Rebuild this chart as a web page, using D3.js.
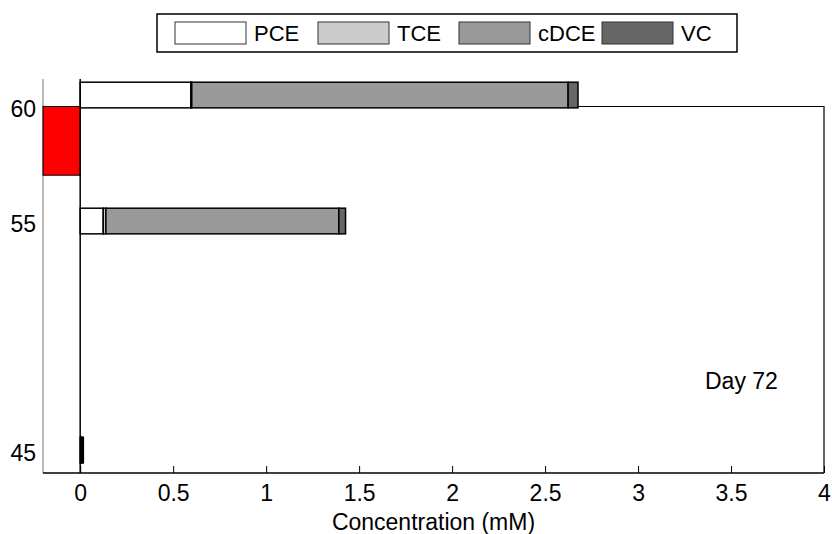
<!DOCTYPE html>
<html>
<head>
<meta charset="utf-8">
<script src="https://cdn.jsdelivr.net/npm/d3@7"></script>
<style>
  html, body { margin: 0; padding: 0; background: #fff; }
  svg { display: block; }
  text { font-family: "Liberation Sans", Arial, Helvetica, sans-serif; fill: #000; }
</style>
</head>
<body>
<svg id="chart" width="832" height="534"></svg>
<script>
// Concentration profile by depth, day 72
const species = ["PCE", "TCE", "cDCE", "VC"];
const speciesColors = ["#ffffff", "#cccccc", "#999999", "#666666"];
const depths = [60.5, 55, 45];
const pce  = [0.595, 0.124, 0.003];
const tce  = [0.005, 0.014, 0.002];
const cdce = [2.024, 1.253, 0.004];
const vc   = [0.053, 0.036, 0.008];
const depthTicks = [45, 55, 60];
const concTicks = [0, 0.5, 1, 1.5, 2, 2.5, 3, 3.5, 4];
const zoneConc = [-0.2, 0];
const zoneDepth = [57, 60];
const dayLabel = "Day 72";
const barThickness = 1.12;

const svg = d3.select("#chart");
const fontSize = 23;

const x = d3.scaleLinear().domain([-0.2, 4]).range([43, 824]);
const y = d3.scaleLinear().domain([44, 61.2]).range([473, 79]);

// left frame line
svg.append("line")
  .attr("x1", x(-0.2)).attr("x2", x(-0.2))
  .attr("y1", y(61.2)).attr("y2", y(44))
  .attr("stroke", "#777").attr("stroke-width", 1);

// highlighted depth zone
svg.append("rect")
  .attr("x", x(zoneConc[0])).attr("width", x(zoneConc[1]) - x(zoneConc[0]))
  .attr("y", y(zoneDepth[1])).attr("height", y(zoneDepth[0]) - y(zoneDepth[1]))
  .attr("fill", "#ff0000").attr("stroke", "#000").attr("stroke-width", 1);

// upper frame and right edge
svg.append("path")
  .attr("d", `M${x(0)},${y(60)}H${x(4)}V${y(44)}`)
  .attr("fill", "none").attr("stroke", "#000").attr("stroke-width", 1.2);

// stacked bars
const rows = depths.map((d, i) => ({ depth: d, vals: [pce[i], tce[i], cdce[i], vc[i]] }));
const stack = d3.stack().keys([0, 1, 2, 3]).value((r, k) => r.vals[k]);
const layers = stack(rows);
layers.forEach((layer, k) => {
  svg.append("g").selectAll("rect").data(layer).join("rect")
    .attr("x", d => x(d[0]))
    .attr("width", d => Math.max(0, x(d[1]) - x(d[0])))
    .attr("y", d => y(d.data.depth + barThickness / 2))
    .attr("height", y(0) - y(barThickness))
    .attr("fill", speciesColors[k])
    .attr("stroke", "#000").attr("stroke-width", 1.5);
});

// zero baseline
svg.append("line")
  .attr("x1", x(0)).attr("x2", x(0))
  .attr("y1", y(61.2)).attr("y2", y(44))
  .attr("stroke", "#000").attr("stroke-width", 1.5);

// x axis
const xAxis = d3.axisBottom(x).tickValues(concTicks).tickSize(0).tickPadding(0)
  .tickFormat(d3.format("~g"));
const gx = svg.append("g").attr("transform", `translate(0,${y(44)})`).call(xAxis);
gx.select(".domain").remove();
svg.append("line")
  .attr("x1", x(-0.2)).attr("x2", x(4))
  .attr("y1", y(44)).attr("y2", y(44))
  .attr("stroke", "#000").attr("stroke-width", 1.5);
gx.selectAll(".tick text")
  .attr("y", 28).attr("dy", 0)
  .style("font-size", fontSize + "px").style("font-family", "Liberation Sans, Arial, sans-serif");
gx.selectAll(".tick").append("line")
  .attr("y1", 0).attr("y2", -7).attr("stroke", "#000").attr("stroke-width", 1);

// y tick labels
svg.append("g").selectAll("text").data(depthTicks).join("text")
  .attr("x", 36).attr("y", d => y(d) + 11)
  .attr("text-anchor", "end")
  .style("font-size", fontSize + "px")
  .text(d => d);

// axis title
svg.append("text")
  .attr("x", 433.5).attr("y", 530)
  .attr("text-anchor", "middle")
  .style("font-size", fontSize + "px")
  .text("Concentration (mM)");

// panel label
svg.append("text")
  .attr("x", 705).attr("y", 389)
  .style("font-size", fontSize + "px")
  .text(dayLabel);

// legend
const lg = svg.append("g");
lg.append("rect").attr("x", 157).attr("y", 14).attr("width", 580).attr("height", 38)
  .attr("fill", "#fff").attr("stroke", "#000").attr("stroke-width", 1.5);
const swX = [175, 318, 459, 602];
species.forEach((s, k) => {
  lg.append("rect").attr("x", swX[k]).attr("y", 22).attr("width", 71).attr("height", 22)
    .attr("fill", speciesColors[k]).attr("stroke", "#333").attr("stroke-width", 1);
  lg.append("text").attr("x", swX[k] + 79).attr("y", 41)
    .style("font-size", "22px").text(s);
});
</script>
</body>
</html>
